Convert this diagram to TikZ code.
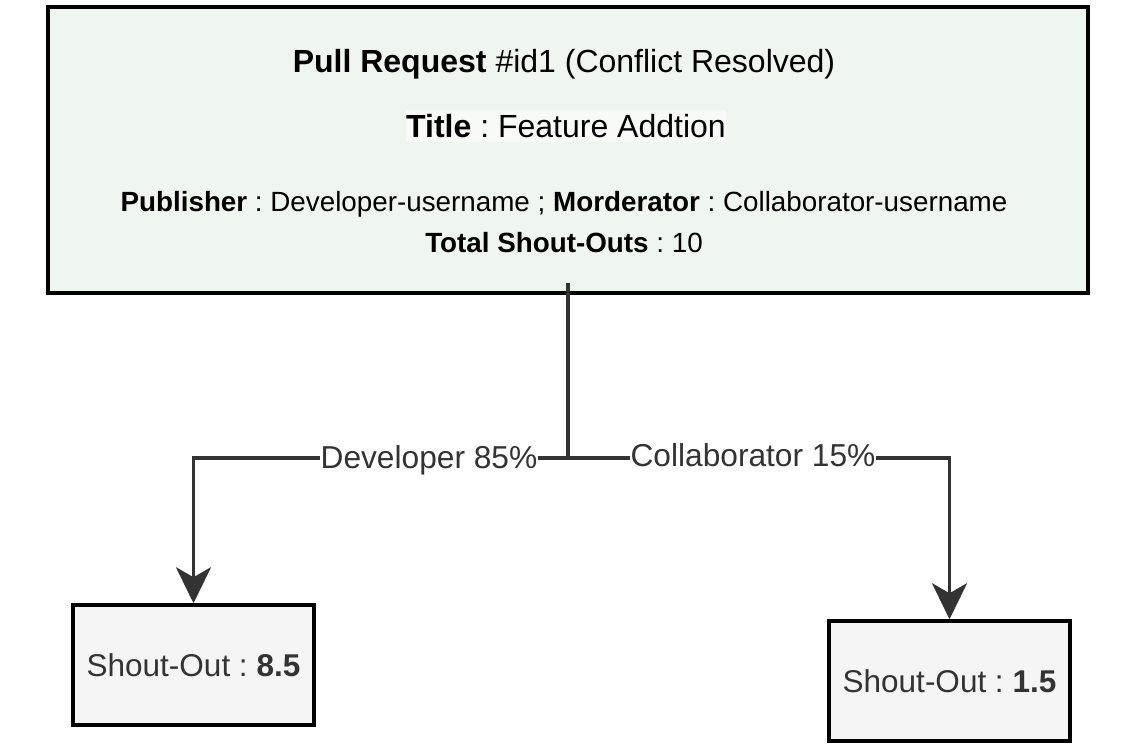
\documentclass[tikz,border=0pt]{standalone}
\usepackage{fontspec}
\setmainfont{Liberation Sans}
\usetikzlibrary{arrows.meta}
\definecolor{topfill}{HTML}{EFF6EF}
\definecolor{hlfill}{HTML}{F8FAF8}
\definecolor{boxfill}{HTML}{F5F5F5}
\definecolor{ink}{HTML}{333333}
\frenchspacing
\begin{document}
\begin{tikzpicture}[x=1pt,y=-1pt,
  bigbox/.style={draw=black,line width=3.5pt,fill=topfill,minimum width=1040pt,minimum height=286pt,inner sep=0pt},
  leafbox/.style={draw=black,line width=3.5pt,fill=boxfill,minimum width=241pt,minimum height=120pt,inner sep=0pt,text=ink,font=\fontsize{31.5}{36}\selectfont},
  headtxt/.style={font=\fontsize{32}{36}\selectfont,inner sep=2pt,text=black},
  subtxt/.style={font=\fontsize{27.8}{32}\selectfont,inner sep=2pt,text=black},
  conn/.style={draw=ink,line width=3.5pt},
  arr/.style={-{Stealth[length=36pt,width=35pt,inset=10pt]}},
  lab/.style={fill=white,text=ink,font=\fontsize{31.7}{36}\selectfont,inner sep=1pt}]
\useasboundingbox (0,0) rectangle (1136,744);
\node[bigbox] (pr) at (568,150) {};
\node[headtxt] (t1) at (564,64) {\textbf{Pull Request} \#id1 (Conflict Resolved)};
\node[headtxt,fill=hlfill,inner xsep=0pt,inner ysep=4pt] (t2) at (566,126) {\textbf{Title} : Feature Addtion};
\node[subtxt] (t3) at (564,204) {\textbf{Publisher} : Developer-username ; \textbf{Morderator} : Collaborator-username};
\node[subtxt] (t4) at (564,243) {\textbf{Total Shout-Outs} : 10};
\node[leafbox] (dev) at (193.5,665) {Shout-Out : \textbf{8.5}};
\node[leafbox] (col) at (949.5,681) {Shout-Out : \textbf{1.5}};
\coordinate (s) at (568,283);
\coordinate (j) at (568,458);
\draw[conn] (s) -- (j);
\draw[conn,arr] (j) -| (dev.north);
\draw[conn,arr] (j) -| (col.north);
\node[lab] (dl) at (429,460) {Developer 85\%};
\node[lab] (cl) at (753,455) {Collaborator 15\%};
\end{tikzpicture}
\end{document}
